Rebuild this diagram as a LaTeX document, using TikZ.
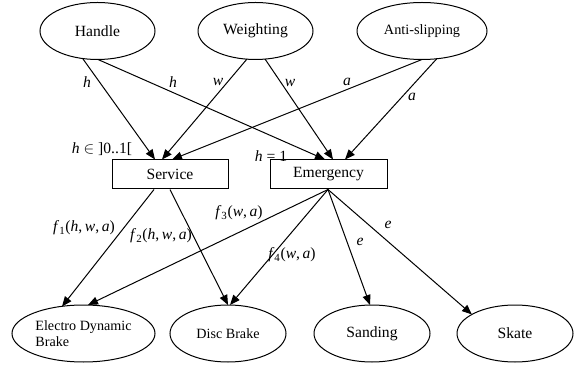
\documentclass[tikz,border=0pt]{standalone}
\usepackage{fontspec}
\setmainfont{Liberation Serif}
\usetikzlibrary{shapes.geometric,arrows.meta,calc}
\begin{document}
\begin{tikzpicture}[x=0.75pt,y=-0.75pt,
  font=\fontsize{11.7}{13.5}\selectfont,
  ell/.style={draw, ellipse, line width=0.75pt, minimum width=#1, minimum height=42.75pt, inner sep=0pt},
  box/.style={draw, rectangle, line width=0.75pt, minimum width=87pt, minimum height=21.75pt, inner sep=0pt},
  arr/.style={-{Triangle[length=7.5pt,width=6pt]}, line width=0.75pt},
  lab/.style={inner sep=0pt, font=\fontsize{11.7}{13.5}\selectfont}]
\useasboundingbox (0,0) rectangle (585,370);
% top
\node[ell=86.25pt] (Handle) at (97.5,31) {Handle};
\node[ell=86.25pt] (Weighting) at (255.5,31) {Weighting};
\node[ell=97.5pt, font=\fontsize{10.7}{12.5}\selectfont] (Anti) at (422,31) {Anti-slipping};
% middle
\node[box] (Service) at (170,174.5) {Service};
\node[box, minimum width=87.75pt] (Emergency) at (328.5,174.5) {Emergency};
% bottom
\node[ell=107.25pt, font=\fontsize{10.6}{12.5}\selectfont, align=left] (EDB) at (83.5,333.5) {Electro Dynamic\\Brake};
\node[ell=87pt, font=\fontsize{10.6}{12.5}\selectfont] (Disc) at (228,333.5) {Disc Brake};
\node[ell=87pt] (Sanding) at (372,333.5) {Sanding};
\node[ell=87pt] (Skate) at (515,333.5) {Skate};
% top edges
\draw[arr] ($(Handle.center)+(-14.5,28)$) -- ($(Service.north)+(-15,0)$);
\draw[arr] ($(Handle.center)+(0.5,28.5)$) -- ($(Emergency.north)+(-3.5,0)$);
\draw[arr] ($(Weighting.center)+(-8.5,28)$) -- ($(Service.north)+(-8,0)$);
\draw[arr] ($(Weighting.center)+(9.5,28)$) -- ($(Emergency.north)+(4.5,0)$);
\draw[arr] ($(Anti.center)+(0,28.5)$) -- ($(Service.north)+(2,0)$);
\draw[arr] ($(Anti.center)+(15,27.5)$) -- ($(Emergency.north)+(16.5,0)$);
% bottom edges
\draw[arr] ($(Service.south)+(-16,0)$) -- ($(EDB.center)+(-21.5,-27)$);
\draw[arr] ($(Service.south)+(0,0)$) -- ($(Disc.center)+(0,-28.5)$);
\draw[arr] ($(Emergency.south)+(-0.5,0)$) -- ($(EDB.center)+(4.5,-28.5)$);
\draw[arr] ($(Emergency.south)+(-0.5,0)$) -- ($(Disc.center)+(2,-28.5)$);
\draw[arr] ($(Emergency.south)+(-0.5,0)$) -- ($(Sanding.center)+(-2,-28.5)$);
\draw[arr] ($(Emergency.south)+(-0.5,0)$) -- ($(Skate.center)+(-43,-19)$);
% labels
\node[lab] (l1) at (87,82) {\textit{h}};
\node[lab] (l2) at (173,82) {\textit{h}};
\node[lab] (l3) at (218,82) {\textit{w}};
\node[lab] (l4) at (290,83) {\textit{w}};
\node[lab] (l5) at (347,82) {\textit{a}};
\node[lab] (l6) at (412,97) {\textit{a}};
\node[lab] (l7) at (102,149) {\textit{h} $\in$ ]0..1[};
\node[lab] (l8) at (271,156) {\textit{h} = 1};
\node[lab] (l9) at (84,228) {\textit{f}\textsubscript{1}(\textit{h},\,\textit{w},\,\textit{a})};
\node[lab] (l10) at (161,236) {\textit{f}\textsubscript{2}(\textit{h},\,\textit{w},\,\textit{a})};
\node[lab] (l11) at (239,213) {\textit{f}\textsubscript{3}(\textit{w},\,\textit{a})};
\node[lab] (l12) at (292,255) {\textit{f}\textsubscript{4}(\textit{w},\,\textit{a})};
\node[lab] (l13) at (360,242) {\textit{e}};
\node[lab] (l14) at (388,225) {\textit{e}};
\end{tikzpicture}
\end{document}
